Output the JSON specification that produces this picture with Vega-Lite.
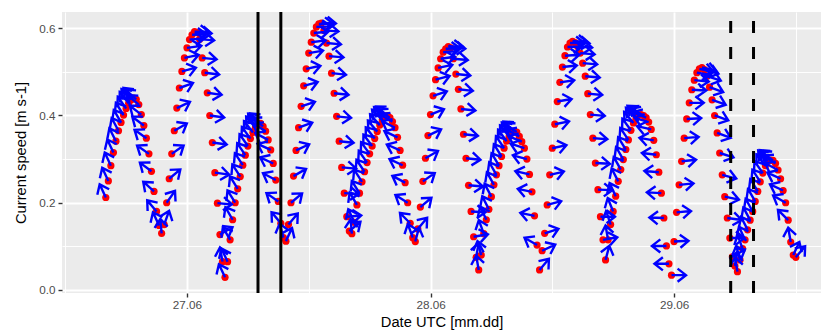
{
"$schema": "https://vega.github.io/schema/vega-lite/v6.json",
"width": 759, "height": 281,
"autosize": {"type": "none"},
"padding": {"left": 62, "top": 12, "right": 7, "bottom": 38},
"background": "white",
"config": {"view": {"fill": "#EBEBEB", "stroke": null}},
"datasets": {
"cur": [
{"t":"2021-06-26T16:00","s":0.212,"d":115},{"t":"2021-06-26T16:15","s":0.25,"d":115},{"t":"2021-06-26T16:30","s":0.285,"d":115},{"t":"2021-06-26T16:45","s":0.315,"d":115},
{"t":"2021-06-26T17:00","s":0.341,"d":117},{"t":"2021-06-26T17:15","s":0.365,"d":118},{"t":"2021-06-26T17:30","s":0.384,"d":120},{"t":"2021-06-26T17:45","s":0.401,"d":122},
{"t":"2021-06-26T18:00","s":0.416,"d":125},{"t":"2021-06-26T18:15","s":0.428,"d":128},{"t":"2021-06-26T18:30","s":0.436,"d":132},{"t":"2021-06-26T18:45","s":0.44,"d":135},
{"t":"2021-06-26T19:00","s":0.437,"d":138},{"t":"2021-06-26T19:15","s":0.425,"d":140},{"t":"2021-06-26T19:30","s":0.402,"d":142},{"t":"2021-06-26T19:45","s":0.377,"d":143},
{"t":"2021-06-26T20:00","s":0.348,"d":145},{"t":"2021-06-26T20:15","s":0.312,"d":145},{"t":"2021-06-26T20:30","s":0.272,"d":143},{"t":"2021-06-26T20:45","s":0.226,"d":138},
{"t":"2021-06-26T21:00","s":0.18,"d":130},{"t":"2021-06-26T21:15","s":0.148,"d":115},{"t":"2021-06-26T21:30","s":0.13,"d":95},{"t":"2021-06-26T21:45","s":0.15,"d":70},
{"t":"2021-06-26T22:00","s":0.2,"d":55},{"t":"2021-06-26T22:15","s":0.255,"d":40},{"t":"2021-06-26T22:30","s":0.312,"d":35},{"t":"2021-06-26T22:45","s":0.365,"d":30},
{"t":"2021-06-26T23:00","s":0.417,"d":25},{"t":"2021-06-26T23:15","s":0.463,"d":20},{"t":"2021-06-26T23:30","s":0.501,"d":15},{"t":"2021-06-26T23:45","s":0.532,"d":12},
{"t":"2021-06-27T00:00","s":0.555,"d":8},{"t":"2021-06-27T00:15","s":0.574,"d":5},{"t":"2021-06-27T00:30","s":0.585,"d":2},{"t":"2021-06-27T00:45","s":0.592,"d":0},
{"t":"2021-06-27T01:00","s":0.59,"d":-3},{"t":"2021-06-27T01:15","s":0.575,"d":-5},{"t":"2021-06-27T01:30","s":0.532,"d":-6},{"t":"2021-06-27T01:45","s":0.498,"d":-7},
{"t":"2021-06-27T02:00","s":0.452,"d":-8},{"t":"2021-06-27T02:15","s":0.4,"d":-8},{"t":"2021-06-27T02:30","s":0.338,"d":-8},{"t":"2021-06-27T02:45","s":0.269,"d":-8},
{"t":"2021-06-27T03:00","s":0.199,"d":-5},{"t":"2021-06-27T03:15","s":0.127,"d":30},{"t":"2021-06-27T03:30","s":0.065,"d":100},{"t":"2021-06-27T03:45","s":0.029,"d":115},
{"t":"2021-06-27T04:00","s":0.065,"d":115},{"t":"2021-06-27T04:15","s":0.115,"d":120},{"t":"2021-06-27T04:30","s":0.161,"d":120},{"t":"2021-06-27T04:45","s":0.2,"d":122},
{"t":"2021-06-27T05:00","s":0.232,"d":122},{"t":"2021-06-27T05:15","s":0.26,"d":123},{"t":"2021-06-27T05:30","s":0.286,"d":123},{"t":"2021-06-27T05:45","s":0.309,"d":124},
{"t":"2021-06-27T06:00","s":0.33,"d":125},{"t":"2021-06-27T06:15","s":0.347,"d":126},{"t":"2021-06-27T06:30","s":0.361,"d":128},{"t":"2021-06-27T06:45","s":0.372,"d":130},
{"t":"2021-06-27T07:00","s":0.38,"d":133},{"t":"2021-06-27T07:15","s":0.382,"d":137},{"t":"2021-06-27T07:30","s":0.375,"d":142},{"t":"2021-06-27T07:45","s":0.364,"d":148},
{"t":"2021-06-27T08:00","s":0.344,"d":152},{"t":"2021-06-27T08:15","s":0.321,"d":155},{"t":"2021-06-27T08:30","s":0.29,"d":155},{"t":"2021-06-27T08:45","s":0.252,"d":152},
{"t":"2021-06-27T09:00","s":0.203,"d":145},{"t":"2021-06-27T09:15","s":0.153,"d":130},{"t":"2021-06-27T09:30","s":0.12,"d":105},{"t":"2021-06-27T09:45","s":0.112,"d":65},
{"t":"2021-06-27T10:00","s":0.15,"d":50},{"t":"2021-06-27T10:15","s":0.2,"d":40},{"t":"2021-06-27T10:30","s":0.261,"d":30},{"t":"2021-06-27T10:45","s":0.32,"d":25},
{"t":"2021-06-27T11:00","s":0.372,"d":20},{"t":"2021-06-27T11:15","s":0.421,"d":18},{"t":"2021-06-27T11:30","s":0.468,"d":15},{"t":"2021-06-27T11:45","s":0.507,"d":12},
{"t":"2021-06-27T12:00","s":0.543,"d":10},{"t":"2021-06-27T12:15","s":0.568,"d":7},{"t":"2021-06-27T12:30","s":0.589,"d":5},{"t":"2021-06-27T12:45","s":0.603,"d":2},
{"t":"2021-06-27T13:00","s":0.61,"d":0},{"t":"2021-06-27T13:15","s":0.612,"d":-2},{"t":"2021-06-27T13:30","s":0.595,"d":-4},{"t":"2021-06-27T13:45","s":0.566,"d":-5},
{"t":"2021-06-27T14:00","s":0.536,"d":-5},{"t":"2021-06-27T14:15","s":0.497,"d":-6},{"t":"2021-06-27T14:30","s":0.451,"d":-6},{"t":"2021-06-27T14:45","s":0.398,"d":-6},
{"t":"2021-06-27T15:00","s":0.341,"d":-6},{"t":"2021-06-27T15:15","s":0.281,"d":-5},{"t":"2021-06-27T15:30","s":0.222,"d":-3},{"t":"2021-06-27T15:45","s":0.168,"d":5},
{"t":"2021-06-27T16:00","s":0.135,"d":40},{"t":"2021-06-27T16:15","s":0.129,"d":95},{"t":"2021-06-27T16:30","s":0.155,"d":115},{"t":"2021-06-27T16:45","s":0.195,"d":120},
{"t":"2021-06-27T17:00","s":0.222,"d":122},{"t":"2021-06-27T17:15","s":0.248,"d":123},{"t":"2021-06-27T17:30","s":0.271,"d":124},{"t":"2021-06-27T17:45","s":0.292,"d":125},
{"t":"2021-06-27T18:00","s":0.312,"d":126},{"t":"2021-06-27T18:15","s":0.33,"d":127},{"t":"2021-06-27T18:30","s":0.347,"d":128},{"t":"2021-06-27T18:45","s":0.363,"d":130},
{"t":"2021-06-27T19:00","s":0.378,"d":132},{"t":"2021-06-27T19:15","s":0.39,"d":135},{"t":"2021-06-27T19:30","s":0.397,"d":138},{"t":"2021-06-27T19:45","s":0.4,"d":142},
{"t":"2021-06-27T20:00","s":0.395,"d":146},{"t":"2021-06-27T20:15","s":0.386,"d":150},{"t":"2021-06-27T20:30","s":0.372,"d":153},{"t":"2021-06-27T20:45","s":0.35,"d":155},
{"t":"2021-06-27T21:00","s":0.32,"d":156},{"t":"2021-06-27T21:15","s":0.286,"d":155},{"t":"2021-06-27T21:30","s":0.246,"d":152},{"t":"2021-06-27T21:45","s":0.2,"d":148},
{"t":"2021-06-27T22:00","s":0.153,"d":135},{"t":"2021-06-27T22:15","s":0.12,"d":110},{"t":"2021-06-27T22:30","s":0.111,"d":75},{"t":"2021-06-27T22:45","s":0.14,"d":50},
{"t":"2021-06-27T23:00","s":0.19,"d":40},{"t":"2021-06-27T23:15","s":0.249,"d":35},{"t":"2021-06-27T23:30","s":0.302,"d":30},{"t":"2021-06-27T23:45","s":0.354,"d":25},
{"t":"2021-06-28T00:00","s":0.402,"d":22},{"t":"2021-06-28T00:15","s":0.445,"d":18},{"t":"2021-06-28T00:30","s":0.482,"d":15},{"t":"2021-06-28T00:45","s":0.509,"d":12},
{"t":"2021-06-28T01:00","s":0.53,"d":8},{"t":"2021-06-28T01:15","s":0.545,"d":5},{"t":"2021-06-28T01:30","s":0.553,"d":2},{"t":"2021-06-28T01:45","s":0.558,"d":0},
{"t":"2021-06-28T02:00","s":0.555,"d":-3},{"t":"2021-06-28T02:15","s":0.53,"d":-5},{"t":"2021-06-28T02:30","s":0.495,"d":-6},{"t":"2021-06-28T02:45","s":0.46,"d":-6},
{"t":"2021-06-28T03:00","s":0.415,"d":-6},{"t":"2021-06-28T03:15","s":0.357,"d":-6},{"t":"2021-06-28T03:30","s":0.302,"d":-6},{"t":"2021-06-28T03:45","s":0.24,"d":-5},
{"t":"2021-06-28T04:00","s":0.18,"d":-3},{"t":"2021-06-28T04:15","s":0.122,"d":10},{"t":"2021-06-28T04:30","s":0.075,"d":80},{"t":"2021-06-28T04:45","s":0.046,"d":100},
{"t":"2021-06-28T05:00","s":0.08,"d":105},{"t":"2021-06-28T05:15","s":0.129,"d":110},{"t":"2021-06-28T05:30","s":0.161,"d":115},{"t":"2021-06-28T05:45","s":0.185,"d":117},
{"t":"2021-06-28T06:00","s":0.214,"d":118},{"t":"2021-06-28T06:15","s":0.241,"d":119},{"t":"2021-06-28T06:30","s":0.264,"d":120},{"t":"2021-06-28T06:45","s":0.285,"d":121},
{"t":"2021-06-28T07:00","s":0.306,"d":122},{"t":"2021-06-28T07:15","s":0.325,"d":124},{"t":"2021-06-28T07:30","s":0.341,"d":126},{"t":"2021-06-28T07:45","s":0.352,"d":129},
{"t":"2021-06-28T08:00","s":0.36,"d":133},{"t":"2021-06-28T08:15","s":0.364,"d":138},{"t":"2021-06-28T08:30","s":0.362,"d":145},{"t":"2021-06-28T08:45","s":0.352,"d":152},
{"t":"2021-06-28T09:00","s":0.34,"d":158},{"t":"2021-06-28T09:15","s":0.325,"d":162},{"t":"2021-06-28T09:30","s":0.3,"d":165},{"t":"2021-06-28T09:45","s":0.265,"d":167},
{"t":"2021-06-28T10:00","s":0.225,"d":168},{"t":"2021-06-28T10:15","s":0.17,"d":168},{"t":"2021-06-28T10:30","s":0.103,"d":150},{"t":"2021-06-28T10:45","s":0.046,"d":50},
{"t":"2021-06-28T11:00","s":0.09,"d":25},{"t":"2021-06-28T11:15","s":0.13,"d":18},{"t":"2021-06-28T11:30","s":0.195,"d":15},{"t":"2021-06-28T11:45","s":0.264,"d":13},
{"t":"2021-06-28T12:00","s":0.325,"d":12},{"t":"2021-06-28T12:15","s":0.38,"d":11},{"t":"2021-06-28T12:30","s":0.432,"d":10},{"t":"2021-06-28T12:45","s":0.476,"d":8},
{"t":"2021-06-28T13:00","s":0.511,"d":6},{"t":"2021-06-28T13:15","s":0.537,"d":4},{"t":"2021-06-28T13:30","s":0.557,"d":2},{"t":"2021-06-28T13:45","s":0.566,"d":0},
{"t":"2021-06-28T14:00","s":0.57,"d":-2},{"t":"2021-06-28T14:15","s":0.567,"d":-3},{"t":"2021-06-28T14:30","s":0.558,"d":-4},{"t":"2021-06-28T14:45","s":0.543,"d":-5},
{"t":"2021-06-28T15:00","s":0.52,"d":-5},{"t":"2021-06-28T15:15","s":0.49,"d":-5},{"t":"2021-06-28T15:30","s":0.45,"d":-5},{"t":"2021-06-28T15:45","s":0.402,"d":-5},
{"t":"2021-06-28T16:00","s":0.348,"d":-4},{"t":"2021-06-28T16:15","s":0.291,"d":-3},{"t":"2021-06-28T16:30","s":0.23,"d":-2},{"t":"2021-06-28T16:45","s":0.168,"d":0},
{"t":"2021-06-28T17:00","s":0.115,"d":10},{"t":"2021-06-28T17:15","s":0.069,"d":75},{"t":"2021-06-28T17:30","s":0.115,"d":100},{"t":"2021-06-28T17:45","s":0.15,"d":108},
{"t":"2021-06-28T18:00","s":0.18,"d":112},{"t":"2021-06-28T18:15","s":0.215,"d":115},{"t":"2021-06-28T18:30","s":0.249,"d":117},{"t":"2021-06-28T18:45","s":0.276,"d":119},
{"t":"2021-06-28T19:00","s":0.299,"d":120},{"t":"2021-06-28T19:15","s":0.322,"d":122},{"t":"2021-06-28T19:30","s":0.344,"d":124},{"t":"2021-06-28T19:45","s":0.366,"d":126},
{"t":"2021-06-28T20:00","s":0.383,"d":130},{"t":"2021-06-28T20:15","s":0.394,"d":134},{"t":"2021-06-28T20:30","s":0.401,"d":140},{"t":"2021-06-28T20:45","s":0.402,"d":147},
{"t":"2021-06-28T21:00","s":0.4,"d":153},{"t":"2021-06-28T21:15","s":0.395,"d":158},{"t":"2021-06-28T21:30","s":0.385,"d":163},{"t":"2021-06-28T21:45","s":0.368,"d":167},
{"t":"2021-06-28T22:00","s":0.343,"d":170},{"t":"2021-06-28T22:15","s":0.31,"d":173},{"t":"2021-06-28T22:30","s":0.27,"d":175},{"t":"2021-06-28T22:45","s":0.222,"d":177},
{"t":"2021-06-28T23:00","s":0.165,"d":178},{"t":"2021-06-28T23:15","s":0.101,"d":180},{"t":"2021-06-28T23:30","s":0.06,"d":180},{"t":"2021-06-28T23:45","s":0.034,"d":0},
{"t":"2021-06-29T00:00","s":0.111,"d":3},{"t":"2021-06-29T00:15","s":0.178,"d":5},{"t":"2021-06-29T00:30","s":0.241,"d":6},{"t":"2021-06-29T00:45","s":0.295,"d":6},
{"t":"2021-06-29T01:00","s":0.348,"d":5},{"t":"2021-06-29T01:15","s":0.392,"d":3},{"t":"2021-06-29T01:30","s":0.429,"d":0},{"t":"2021-06-29T01:45","s":0.459,"d":-3},
{"t":"2021-06-29T02:00","s":0.481,"d":-6},{"t":"2021-06-29T02:15","s":0.498,"d":-9},{"t":"2021-06-29T02:30","s":0.507,"d":-12},{"t":"2021-06-29T02:45","s":0.51,"d":-14},
{"t":"2021-06-29T03:00","s":0.505,"d":-16},{"t":"2021-06-29T03:15","s":0.49,"d":-18},{"t":"2021-06-29T03:30","s":0.465,"d":-20},{"t":"2021-06-29T03:45","s":0.436,"d":-20},
{"t":"2021-06-29T04:00","s":0.4,"d":-20},{"t":"2021-06-29T04:15","s":0.36,"d":-20},{"t":"2021-06-29T04:30","s":0.314,"d":-18},{"t":"2021-06-29T04:45","s":0.264,"d":-15},
{"t":"2021-06-29T05:00","s":0.214,"d":-12},{"t":"2021-06-29T05:15","s":0.165,"d":-8},{"t":"2021-06-29T05:30","s":0.119,"d":0},{"t":"2021-06-29T05:45","s":0.076,"d":30},
{"t":"2021-06-29T06:00","s":0.055,"d":80},{"t":"2021-06-29T06:15","s":0.042,"d":100},{"t":"2021-06-29T06:30","s":0.069,"d":105},{"t":"2021-06-29T06:45","s":0.095,"d":110},
{"t":"2021-06-29T07:00","s":0.115,"d":115},{"t":"2021-06-29T07:15","s":0.138,"d":117},{"t":"2021-06-29T07:30","s":0.16,"d":118},{"t":"2021-06-29T07:45","s":0.18,"d":119},
{"t":"2021-06-29T08:00","s":0.203,"d":120},{"t":"2021-06-29T08:15","s":0.226,"d":121},{"t":"2021-06-29T08:30","s":0.248,"d":123},{"t":"2021-06-29T08:45","s":0.268,"d":125},
{"t":"2021-06-29T09:00","s":0.285,"d":128},{"t":"2021-06-29T09:15","s":0.295,"d":132},{"t":"2021-06-29T09:30","s":0.298,"d":137},{"t":"2021-06-29T09:45","s":0.297,"d":142},
{"t":"2021-06-29T10:00","s":0.29,"d":147},{"t":"2021-06-29T10:15","s":0.275,"d":152},{"t":"2021-06-29T10:30","s":0.255,"d":155},{"t":"2021-06-29T10:45","s":0.228,"d":155},
{"t":"2021-06-29T11:00","s":0.2,"d":150},{"t":"2021-06-29T11:15","s":0.16,"d":135},{"t":"2021-06-29T11:30","s":0.11,"d":100},{"t":"2021-06-29T11:45","s":0.08,"d":65},
{"t":"2021-06-29T12:00","s":0.075,"d":50}
],
"solid": [{"t":"2021-06-27T07:00"},{"t":"2021-06-27T09:15"}],
"dashed": [{"t":"2021-06-29T05:35"},{"t":"2021-06-29T07:50"}]
},
"encoding": {
"x": {"field": "t", "type": "temporal",
 "scale": {"domain": [{"year":2021,"month":6,"date":26,"hours":11,"minutes":41},{"year":2021,"month":6,"date":29,"hours":14,"minutes":29}]},
 "axis": {
  "title": "Date UTC [mm.dd]",
  "values": [{"year":2021,"month":6,"date":26,"hours":12},{"year":2021,"month":6,"date":27,"hours":0},{"year":2021,"month":6,"date":27,"hours":12},{"year":2021,"month":6,"date":28,"hours":0},{"year":2021,"month":6,"date":28,"hours":12},{"year":2021,"month":6,"date":29,"hours":0},{"year":2021,"month":6,"date":29,"hours":12}],
  "labelExpr": "hours(datum.value) == 0 ? timeFormat(datum.value, '%d.%m') : ''",
  "grid": true, "gridColor": "#FFFFFF",
  "gridWidth": {"condition": {"test": "hours(datum.value) == 0", "value": 1.9}, "value": 0.95},
  "tickOpacity": {"condition": {"test": "hours(datum.value) == 0", "value": 1}, "value": 0},
  "domain": false, "tickColor": "#333333", "tickSize": 4, "tickWidth": 1.4,
  "labelColor": "#4D4D4D", "labelFont": "Liberation Sans", "labelFontSize": 11.7, "labelPadding": 2,
  "labelOverlap": false, "labelFlush": false,
  "titleFont": "Liberation Sans", "titleFontSize": 14.7, "titleFontWeight": "normal", "titleColor": "#000000", "titlePadding": 4
 }
}
},
"layer": [
{"data": {"name": "cur"},
 "mark": {"type": "point", "shape": "circle", "filled": true, "color": "#FF0000", "size": 52, "opacity": 1, "strokeWidth": 0},
 "encoding": {
  "y": {"field": "s", "type": "quantitative",
   "scale": {"domain": [-0.0069, 0.6372], "nice": false, "zero": false},
   "axis": {
    "title": "Current speed [m s-1]",
    "values": [0, 0.1, 0.2, 0.3, 0.4, 0.5, 0.6],
    "labelExpr": "round(datum.value * 10) % 2 == 0 ? format(datum.value, '.1f') : ''",
    "grid": true, "gridColor": "#FFFFFF",
    "gridWidth": {"condition": {"test": "round(datum.value * 10) % 2 == 0", "value": 1.9}, "value": 0.95},
    "tickOpacity": {"condition": {"test": "round(datum.value * 10) % 2 == 0", "value": 1}, "value": 0},
    "domain": false, "tickColor": "#333333", "tickSize": 4, "tickWidth": 1.4,
    "labelColor": "#4D4D4D", "labelFont": "Liberation Sans", "labelFontSize": 11.7, "labelPadding": 3,
    "labelOverlap": false, "labelFlush": false,
    "titleFont": "Liberation Sans", "titleFontSize": 14.7, "titleFontWeight": "normal", "titleColor": "#000000", "titlePadding": 10
   }
  }
 }
},
{"data": {"name": "cur"},
 "mark": {"type": "point", "shape": "M0,0L1,0M0.42,-0.45L1,0L0.42,0.45", "filled": false, "stroke": "#0000FF", "strokeWidth": 2.4, "strokeJoin": "miter", "size": 841, "opacity": 1},
 "encoding": {
  "y": {"field": "s", "type": "quantitative"},
  "angle": {"field": "d", "type": "quantitative", "scale": {"domain": [0, 360], "range": [0, -360], "zero": false, "nice": false}}
 }
},
{"data": {"name": "solid"},
 "mark": {"type": "rule", "color": "#000000", "strokeWidth": 3},
 "encoding": {"y": {"value": 281}, "y2": {"value": 0}}
},
{"data": {"name": "dashed"},
 "mark": {"type": "rule", "color": "#000000", "strokeWidth": 3, "strokeDash": [12, 14]},
 "encoding": {"y": {"value": 281}, "y2": {"value": 0}}
}
]
}
